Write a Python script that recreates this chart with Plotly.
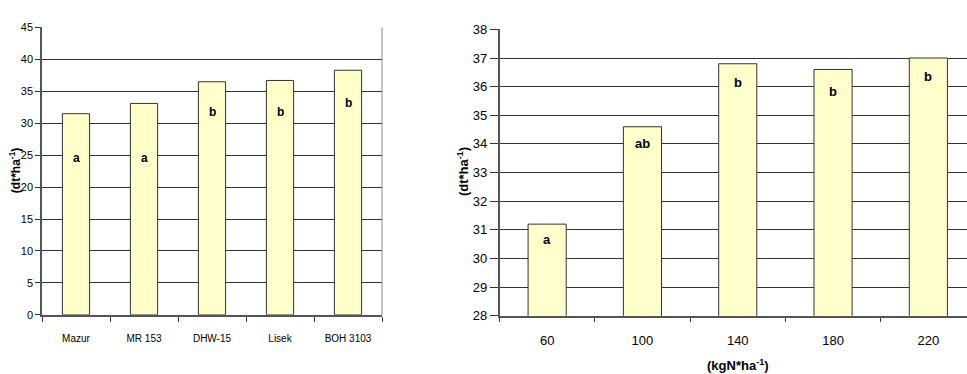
import plotly.graph_objects as go

# Left panel: yield by cultivar
cultivars = ["Mazur", "MR 153", "DHW-15", "Lisek", "BOH 3103"]
yield_cultivar = [31.5, 33.1, 36.5, 36.7, 38.3]
groups_cultivar = ["a", "a", "b", "b", "b"]
label_y_cultivar = [24.6, 24.6, 31.8, 31.8, 33.2]

# Right panel: yield by nitrogen dose
n_doses = ["60", "100", "140", "180", "220"]
yield_n = [31.2, 34.6, 36.8, 36.6, 37.0]
groups_n = ["a", "ab", "b", "b", "b"]
label_y_n = [30.65, 34.0, 36.13, 35.83, 36.34]

FONT = "Liberation Sans, Arial, sans-serif"
BAR_FILL = "#FFFFCC"
BAR_LINE = "#333333"
GRID = "#333333"

fig = go.Figure()
fig.add_trace(go.Bar(x=cultivars, y=yield_cultivar, width=0.4,
                     marker=dict(color=BAR_FILL, line=dict(color=BAR_LINE, width=1)),
                     xaxis="x", yaxis="y", showlegend=False, hoverinfo="skip"))
fig.add_trace(go.Bar(x=n_doses, y=yield_n, width=0.4,
                     marker=dict(color=BAR_FILL, line=dict(color=BAR_LINE, width=1)),
                     xaxis="x2", yaxis="y2", showlegend=False, hoverinfo="skip"))

annotations = []
for i, (g, ly) in enumerate(zip(groups_cultivar, label_y_cultivar)):
    annotations.append(dict(x=i, y=ly, xref="x", yref="y", text=f"<b>{g}</b>",
                            showarrow=False, font=dict(family=FONT, size=12, color="#000")))
for i, (g, ly) in enumerate(zip(groups_n, label_y_n)):
    annotations.append(dict(x=i, y=ly, xref="x2", yref="y2", text=f"<b>{g}</b>",
                            showarrow=False, font=dict(family=FONT, size=13, color="#000")))

# axis titles
annotations.append(dict(x=15 / 967, y=(374 - 171) / 374, xref="paper", yref="paper",
                        xanchor="center", yanchor="middle",
                        text="<b>(dt*ha<sup>-1</sup>)</b>", textangle=-90, showarrow=False,
                        font=dict(family=FONT, size=12, color="#000")))
annotations.append(dict(x=463 / 967, y=(374 - 172) / 374, xref="paper", yref="paper",
                        xanchor="center", yanchor="middle",
                        text="<b>(dt*ha<sup>-1</sup>)</b>", textangle=-90, showarrow=False,
                        font=dict(family=FONT, size=13, color="#000")))
annotations.append(dict(x=2, y=0, xref="x2", yref="paper",
                        xanchor="center", yanchor="bottom", yshift=-9,
                        text="<b>(kgN*ha<sup>-1</sup>)</b>", showarrow=False,
                        font=dict(family=FONT, size=13, color="#000")))


def axis_style(size, ticklen=4, standoff=None):
    style = dict(showline=True, linecolor="#555555", linewidth=1.5,
                 ticks="outside", ticklen=ticklen, tickcolor="#333",
                 tickfont=dict(family=FONT, size=size, color="#000"))
    if standoff is not None:
        style["ticklabelstandoff"] = standoff
    return style


fig.update_layout(
    width=967, height=374,
    margin=dict(l=0, r=0, t=0, b=0),
    paper_bgcolor="white", plot_bgcolor="white",
    annotations=annotations,
    xaxis=dict(type="category", domain=[42 / 967, 382 / 967], anchor="y",
               range=[-0.5, 4.5], showgrid=False, tickson="boundaries",
               **axis_style(10, 5, 13)),
    yaxis=dict(domain=[(374 - 320.7) / 374, (374 - 21.3) / 374], anchor="x",
               range=[0, 45], dtick=5, showgrid=True, gridcolor=GRID, gridwidth=1,
               zeroline=False, **axis_style(11, 5)),
    xaxis2=dict(type="category", domain=[499.5 / 967, 1.0], anchor="y2",
                range=[-0.5, 4.5 - 9.0 / 95.3],
                showgrid=False, tickson="boundaries", **axis_style(13, 4, 12)),
    yaxis2=dict(domain=[(374 - 321.7) / 374, (374 - 23.3) / 374], anchor="x2",
                range=[28, 38], dtick=1, showgrid=True, gridcolor=GRID, gridwidth=1,
                zeroline=False, **axis_style(13, 8)),
    shapes=[
        # right border of the left plot area
        dict(type="line", xref="paper", yref="paper",
             x0=382 / 967, x1=382 / 967,
             y0=(374 - 320.7) / 374, y1=(374 - 21.3) / 374,
             line=dict(color="#888888", width=1)),
    ],
)

fig.write_html("out.html")
